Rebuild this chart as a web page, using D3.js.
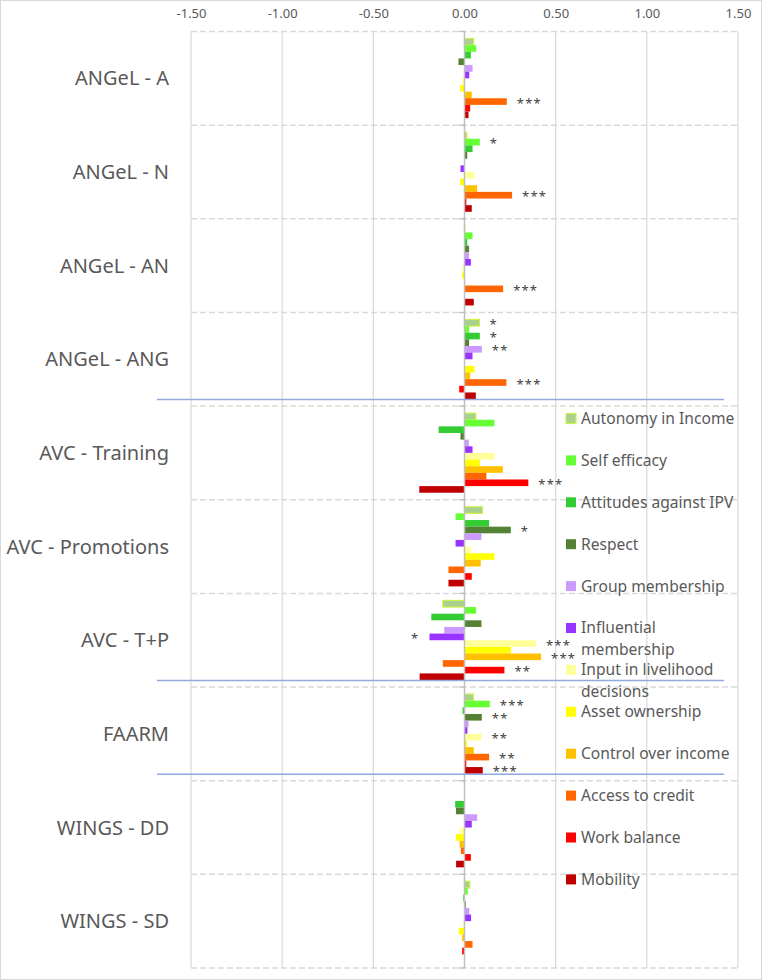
<!DOCTYPE html>
<html>
<head>
<meta charset="utf-8">
<script src="https://cdn.jsdelivr.net/npm/d3@7"></script>
<style>
  html, body { margin: 0; padding: 0; background: #fff; }
  svg { display: block; font-family: "Noto Sans", "Open Sans", sans-serif; }
</style>
</head>
<body>
<svg id="chart" width="762" height="980"></svg>
<script>
// groups (top to bottom)
const groups = ['ANGeL - A', 'ANGeL - N', 'ANGeL - AN', 'ANGeL - ANG', 'AVC - Training',
  'AVC - Promotions', 'AVC - T+P', 'FAARM', 'WINGS - DD', 'WINGS - SD'];

// indicators (bar order inside each group)
const indicators = ['Autonomy in Income', 'Self efficacy', 'Attitudes against IPV', 'Respect',
  'Group membership', 'Influential membership', 'Input in livelihood decisions', 'Asset ownership',
  'Control over income', 'Access to credit', 'Work balance', 'Mobility'];

const colors = ['#a9d08e', '#66ff33', '#33cc33', '#548235', '#cc99ff', '#9933ff',
  '#ffff99', '#ffff00', '#ffc000', '#ff6600', '#ff0000', '#c00000'];

// effect sizes, one array per group, in indicator order
const angelA   = [0.050, 0.064, 0.035, -0.033, 0.044, 0.026, -0.013, -0.024, 0.040, 0.232, 0.031, 0.022];
const angelN   = [0.013, 0.084, 0.044, 0.015, 0.003, -0.022, 0.055, -0.024, 0.069, 0.261, 0.010, 0.040];
const angelAN  = [0.002, 0.044, 0.015, 0.025, 0.024, 0.035, -0.011, -0.013, 0.000, 0.212, 0.000, 0.051];
const angelANG = [0.082, 0.025, 0.084, 0.025, 0.095, 0.044, 0.000, 0.055, 0.031, 0.230, -0.029, 0.062];
const avcT     = [0.062, 0.164, -0.142, -0.022, 0.024, 0.044, 0.164, 0.084, 0.210, 0.120, 0.350, -0.248];
const avcP     = [0.099, -0.049, 0.135, 0.254, 0.093, -0.049, 0.035, 0.164, 0.089, -0.088, 0.040, -0.088];
const avcTP    = [-0.119, 0.064, -0.182, 0.093, -0.111, -0.192, 0.392, 0.255, 0.420, -0.119, 0.219, -0.246];
const faarm    = [0.049, 0.139, -0.011, 0.095, 0.022, 0.016, 0.093, 0.013, 0.051, 0.135, 0.010, 0.100];
const wingsDD  = [0.000, 0.000, -0.051, -0.047, 0.069, 0.040, -0.027, -0.047, -0.027, -0.020, 0.035, -0.046];
const wingsSD  = [0.029, 0.018, -0.007, 0.007, 0.026, 0.036, -0.007, -0.031, -0.013, 0.044, -0.013, 0.000];
const values = [angelA, angelN, angelAN, angelANG, avcT, avcP, avcTP, faarm, wingsDD, wingsSD];

// significance stars, same layout ('' = none)
const stars = [
  ['', '', '', '', '', '', '', '', '', '***', '', ''],
  ['', '*', '', '', '', '', '', '', '', '***', '', ''],
  ['', '', '', '', '', '', '', '', '', '***', '', ''],
  ['*', '', '*', '', '**', '', '', '', '', '***', '', ''],
  ['', '', '', '', '', '', '', '', '', '', '***', ''],
  ['', '', '', '*', '', '', '', '', '', '', '', ''],
  ['', '', '', '', '', '*', '***', '', '***', '', '**', ''],
  ['', '***', '', '**', '', '', '**', '', '', '**', '', '***'],
  ['', '', '', '', '', '', '', '', '', '', '', ''],
  ['', '', '', '', '', '', '', '', '', '', '', '']
];

const xTicks = [-1.5, -1.0, -0.5, 0, 0.5, 1.0, 1.5];
// blue separators drawn below these groups
const breaksAfter = ['ANGeL - ANG', 'AVC - T+P', 'FAARM'];

const svg = d3.select('#chart');
const W = 762, H = 980;
const plot = { left: 191, right: 738, top: 31.5, bottom: 968 };

const x = d3.scaleLinear().domain([-1.5, 1.5]).range([plot.left, plot.right]);
const y = d3.scaleBand().domain(groups).range([plot.top, plot.bottom]).padding(0);
const yInner = d3.scaleBand().domain(indicators).range([7, y.bandwidth() - 7]).padding(0);
const color = d3.scaleOrdinal().domain(indicators).range(colors);

// outer border
svg.append('rect')
  .attr('x', 0.5).attr('y', 0.5).attr('width', W - 1).attr('height', H - 1)
  .attr('fill', '#fff').attr('stroke', '#d9d9d9');

// vertical gridlines
svg.append('g').selectAll('line')
  .data(xTicks.filter(d => d !== 0))
  .join('line')
  .attr('x1', d => x(d)).attr('x2', d => x(d))
  .attr('y1', plot.top).attr('y2', plot.bottom)
  .attr('stroke', '#d9d9d9').attr('stroke-width', 1.2);

// dashed category lines
const bounds = groups.map(g => y(g)).concat([plot.bottom]);
svg.append('g').selectAll('line')
  .data(bounds)
  .join('line')
  .attr('x1', plot.left).attr('x2', plot.right)
  .attr('y1', d => d).attr('y2', d => d)
  .attr('stroke', '#d9d9d9').attr('stroke-width', 1.5)
  .attr('stroke-dasharray', '6,3');

// top axis labels
const xAxis = d3.axisTop(x).tickValues(xTicks).tickSize(0).tickPadding(0)
  .tickFormat(d => d.toFixed(2));
svg.append('g')
  .attr('transform', 'translate(0,18)')
  .call(xAxis)
  .call(g => g.select('.domain').remove())
  .call(g => g.selectAll('text')
    .attr('fill', '#595959')
    .attr('font-size', 13)
    .attr('font-family', '"Noto Sans", sans-serif')
    .attr('dy', 0));

// bars
const flat = [];
groups.forEach((g, gi) => {
  indicators.forEach((ind, ii) => {
    flat.push({ group: g, ind: ind, value: values[gi][ii], star: stars[gi][ii] });
  });
});

svg.append('g').selectAll('rect')
  .data(flat)
  .join('rect')
  .attr('x', d => x(Math.min(0, d.value)))
  .attr('y', d => y(d.group) + yInner(d.ind))
  .attr('width', d => Math.abs(x(d.value) - x(0)))
  .attr('height', yInner.bandwidth())
  .attr('fill', d => color(d.ind))
  .attr('stroke', d => d.ind === 'Autonomy in Income' ? '#cdf24c' : 'none')
  .attr('stroke-width', 1.2);

// zero axis line with ticks
svg.append('line')
  .attr('x1', x(0)).attr('x2', x(0))
  .attr('y1', plot.top).attr('y2', plot.bottom)
  .attr('stroke', '#bfbfbf').attr('stroke-width', 1.5);
svg.append('g').selectAll('line')
  .data(bounds)
  .join('line')
  .attr('x1', x(0) - 6).attr('x2', x(0))
  .attr('y1', d => d).attr('y2', d => d)
  .attr('stroke', '#bfbfbf').attr('stroke-width', 1.2);

// significance stars
svg.append('g').selectAll('text')
  .data(flat.filter(d => d.star))
  .join('text')
  .attr('x', d => d.value >= 0 ? x(d.value) + 10 : x(d.value) - 10)
  .attr('y', d => y(d.group) + yInner(d.ind) + yInner.bandwidth() / 2 + 6)
  .attr('text-anchor', d => d.value >= 0 ? 'start' : 'end')
  .attr('font-size', 13)
  .attr('letter-spacing', 1.2)
  .attr('fill', '#404040')
  .text(d => d.star);

// category labels
svg.append('g').selectAll('text')
  .data(groups)
  .join('text')
  .attr('x', 169)
  .attr('y', d => y(d) + y.bandwidth() / 2)
  .attr('dy', '0.35em')
  .attr('text-anchor', 'end')
  .attr('font-size', 20)
  .attr('fill', '#595959')
  .text(d => d);

// blue separators
svg.append('g').selectAll('line')
  .data(breaksAfter)
  .join('line')
  .attr('x1', 157).attr('x2', 724)
  .attr('y1', d => y(d) + y.bandwidth() - 6.5)
  .attr('y2', d => y(d) + y.bandwidth() - 6.5)
  .attr('stroke', '#8faadc').attr('stroke-width', 1.5);

// legend
const legend = svg.append('g').attr('transform', 'translate(566,418.5)');
const item = legend.selectAll('g')
  .data(indicators)
  .join('g')
  .attr('transform', (d, i) => `translate(0,${i * 41.9})`);

item.append('rect')
  .attr('x', 0).attr('y', -5).attr('width', 10).attr('height', 10)
  .attr('fill', d => color(d))
  .attr('stroke', d => d === 'Autonomy in Income' ? '#cdf24c' : 'none')
  .attr('stroke-width', 1.2);

item.append('text')
  .attr('x', 15)
  .attr('font-size', 15.6)
  .attr('fill', '#595959')
  .each(function(d) {
    // wrap to the legend width
    const t = d3.select(this);
    const words = d.split(' ');
    let line = [];
    let tspan = t.append('tspan').attr('x', 15).attr('dy', '0.35em');
    words.forEach(w => {
      line.push(w);
      tspan.text(line.join(' '));
      if (tspan.node().getComputedTextLength() > 156 && line.length > 1) {
        line.pop();
        tspan.text(line.join(' '));
        line = [w];
        tspan = t.append('tspan').attr('x', 15).attr('dy', 22).text(w);
      }
    });
  });
</script>
</body>
</html>
